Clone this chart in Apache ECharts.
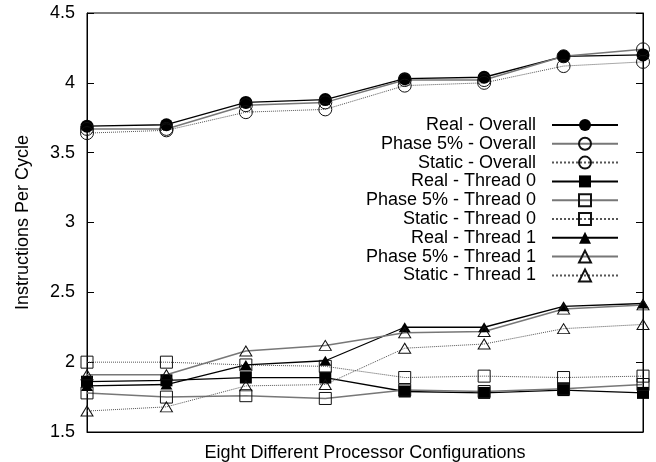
<!DOCTYPE html>
<html>
<head>
<meta charset="utf-8">
<script src="https://cdn.jsdelivr.net/npm/echarts@6/dist/echarts.min.js"></script>
<style>
html,body{margin:0;padding:0;background:#fff;}
#main{width:656px;height:462px;}
</style>
</head>
<body>
<div id="main"></div>
<script>
// 8 processor configurations (no labels on the x axis)
var configs = ['1', '2', '3', '4', '5', '6', '7', '8'];
var yTicks = [1.5, 2, 2.5, 3, 3.5, 4, 4.5];

// instructions per cycle
var realOverall   = [3.69, 3.70, 3.86, 3.88, 4.03, 4.04, 4.19, 4.20];
var phaseOverall  = [3.67, 3.67, 3.84, 3.86, 4.02, 4.02, 4.19, 4.24];
var staticOverall = [3.64, 3.66, 3.79, 3.81, 3.98, 4.00, 4.12, 4.15];
var realT0   = [1.86, 1.87, 1.89, 1.89, 1.79, 1.78, 1.80, 1.78];
var phaseT0  = [1.78, 1.75, 1.76, 1.74, 1.80, 1.79, 1.81, 1.84];
var staticT0 = [2.00, 2.00, 1.98, 1.97, 1.89, 1.90, 1.89, 1.90];
var realT1   = [1.83, 1.84, 1.98, 2.01, 2.25, 2.25, 2.40, 2.42];
var phaseT1  = [1.91, 1.91, 2.08, 2.12, 2.21, 2.22, 2.38, 2.41];
var staticT1 = [1.65, 1.68, 1.83, 1.84, 2.10, 2.13, 2.24, 2.27];

var FONT = '"Liberation Sans", Arial, sans-serif';

// line looks: real = black solid, phase = grey solid, static = dotted
function mk(name, data, kind, symbol, filled) {
    var size = symbol === 'triangle' ? [12, 10] : (symbol === 'circle' ? 13 : 12);
    var lineStyle;
    if (kind === 'real') lineStyle = {color: '#000', width: 1.3, type: 'solid'};
    else if (kind === 'phase') lineStyle = {color: '#777', width: 1.5, type: 'solid'};
    else lineStyle = {color: '#555', width: 1, type: 'dotted'};
    return {
        name: name,
        type: 'line',
        data: data,
        symbol: symbol,
        symbolSize: size,
        showAllSymbol: true,
        clip: false,
        animation: false,
        lineStyle: lineStyle,
        itemStyle: filled
            ? {color: '#000', borderColor: '#000', borderWidth: 0}
            : {color: 'transparent', borderColor: '#111', borderWidth: 1},
        emphasis: {disabled: true}
    };
}

var series = [
    mk('Real - Overall', realOverall, 'real', 'circle', true),
    mk('Phase 5% - Overall', phaseOverall, 'phase', 'circle', false),
    mk('Static - Overall', staticOverall, 'static', 'circle', false),
    mk('Real - Thread 0', realT0, 'real', 'rect', true),
    mk('Phase 5% - Thread 0', phaseT0, 'phase', 'rect', false),
    mk('Static - Thread 0', staticT0, 'static', 'rect', false),
    mk('Real - Thread 1', realT1, 'real', 'triangle', true),
    mk('Phase 5% - Thread 1', phaseT1, 'phase', 'triangle', false),
    mk('Static - Thread 1', staticT1, 'static', 'triangle', false)
];

var chart = echarts.init(document.getElementById('main'), null, {renderer: 'canvas'});
chart.setOption({
    backgroundColor: '#fff',
    animation: false,
    textStyle: {fontFamily: FONT, color: '#000'},
    grid: {
        left: 87, right: 13, top: 13, bottom: 30,
        outerBoundsMode: 'none', containLabel: false,
        show: true, borderColor: '#000', borderWidth: 1
    },
    legend: {
        orient: 'vertical',
        right: 37,
        top: 116,
        padding: 0,
        align: 'right',
        itemWidth: 66,
        itemHeight: 15,
        itemGap: 0.8,
        selectedMode: false,
        textStyle: {fontFamily: FONT, fontSize: 18, color: '#000', lineHeight: 16, padding: [0, 11, 0, 0]},
        data: series.map(function (s) { return s.name; })
    },
    xAxis: {
        type: 'category',
        data: configs,
        boundaryGap: false,
        name: 'Eight Different Processor Configurations',
        nameLocation: 'middle',
        nameGap: 12,
        nameTextStyle: {fontFamily: FONT, fontSize: 18, color: '#000'},
        axisLine: {lineStyle: {color: '#000', width: 1}},
        axisTick: {show: false},
        axisLabel: {show: false},
        splitLine: {show: false}
    },
    yAxis: [{
        type: 'value',
        min: yTicks[0],
        max: yTicks[yTicks.length - 1],
        interval: 0.5,
        name: 'Instructions Per Cycle',
        nameLocation: 'middle',
        nameRotate: 90,
        nameGap: 55,
        nameTextStyle: {fontFamily: FONT, fontSize: 18, color: '#000'},
        axisLine: {show: true, lineStyle: {color: '#000', width: 1}},
        axisTick: {show: true, inside: true, length: 7, lineStyle: {color: '#000'}},
        axisLabel: {fontFamily: FONT, fontSize: 18, color: '#000', margin: 12},
        splitLine: {show: false}
    }, {
        type: 'value',
        position: 'right',
        min: yTicks[0],
        max: yTicks[yTicks.length - 1],
        interval: 0.5,
        axisLine: {show: true, lineStyle: {color: '#000', width: 1}},
        axisTick: {show: true, inside: true, length: 7, lineStyle: {color: '#000'}},
        axisLabel: {show: false},
        splitLine: {show: false}
    }],
    series: series
});
</script>
</body>
</html>
